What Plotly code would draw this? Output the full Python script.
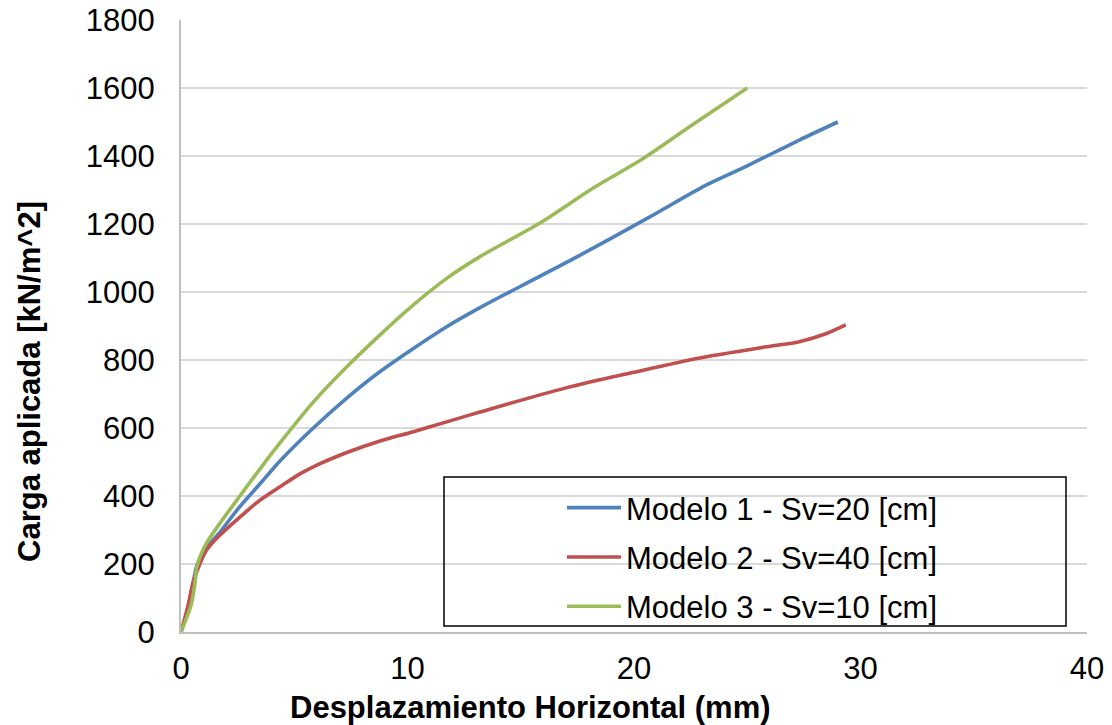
import plotly.graph_objects as go

# ---- data ----
x_m1 = [0, 0.3, 0.55, 0.72, 1.13, 1.72, 2.6, 3.49, 4.37, 5.84, 7.32, 8.79, 10.26, 11.73, 13.2, 15.0,
        17.5, 20.7, 23.2, 25.0, 27.3, 29.0]
y_m1 = [0, 65, 150, 200, 248, 294, 369, 436, 503, 600, 688, 766, 834, 898, 954, 1017,
        1104, 1221, 1315, 1371, 1447, 1500]

x_m2 = [0, 0.3, 0.55, 0.8, 1.13, 1.72, 2.6, 3.49, 4.37, 5.25, 5.84, 7.32, 8.79, 10.26, 11.73, 13.2,
        17.0, 20.0, 22.9, 25.86, 27.3, 28.5, 29.35]
y_m2 = [0, 75, 150, 195, 241, 285, 338, 388, 427, 465, 486, 528, 562, 589, 618, 647,
        718, 764, 806, 839, 854, 878, 903]

x_m3 = [0, 0.25, 0.45, 0.6, 0.7, 0.9, 1.13, 1.72, 2.6, 3.49, 4.37, 5.84, 7.32, 8.79, 10.26, 11.73,
        13.2, 15.85, 18.2, 20.3, 22.5, 25.0]
y_m3 = [0, 42, 80, 135, 192, 231, 262, 320, 400, 480, 556, 676, 780, 874, 962, 1040,
        1104, 1203, 1306, 1388, 1488, 1600]

names = ["Modelo 1 - Sv=20 [cm]", "Modelo 2 - Sv=40 [cm]", "Modelo 3 - Sv=10 [cm]"]
colors = ["#4F81BD", "#C0504D", "#9BBB59"]

x_ticks = [0, 10, 20, 30, 40]
y_ticks = [0, 200, 400, 600, 800, 1000, 1200, 1400, 1600, 1800]

FONT = "Liberation Sans, Arial, sans-serif"

fig = go.Figure()
for i, (xs, ys) in enumerate([(x_m1, y_m1), (x_m2, y_m2), (x_m3, y_m3)]):
    fig.add_trace(go.Scatter(
        x=xs, y=ys, mode="lines", name=names[i],
        line=dict(color=colors[i], width=3.6, shape="spline", smoothing=0.8),
        legendgroup=f"g{i}",
    ))

fig.update_layout(
    width=1112, height=725,
    margin=dict(l=181, r=25, t=20, b=93, autoexpand=False),
    paper_bgcolor="white", plot_bgcolor="white",
    font=dict(family=FONT, size=31, color="black"),
    showlegend=True,
    legend=dict(
        x=(562 - 181) / 906, y=(632 - 481) / 612,
        xanchor="left", yanchor="top",
        bgcolor="rgba(0,0,0,0)", borderwidth=0,
        font=dict(family=FONT, size=31, color="black"),
        itemwidth=54, tracegroupgap=6,
    ),
    shapes=[dict(
        type="rect", xref="paper", yref="paper",
        x0=(444 - 181) / 906, x1=(1066 - 181) / 906,
        y0=(632 - 626) / 612, y1=(632 - 477) / 612,
        line=dict(color="black", width=1.5), fillcolor="rgba(0,0,0,0)",
        layer="above",
    )],
    annotations=[
        dict(text="<b>Desplazamiento Horizontal (mm)</b>", xref="paper", yref="paper",
             x=(530 - 181) / 906, y=(632 - 707) / 612, xanchor="center", yanchor="middle",
             showarrow=False, font=dict(family=FONT, size=31, color="black")),
        dict(text="<b>Carga aplicada [kN/m^2]</b>", xref="paper", yref="paper",
             x=(29 - 181) / 906, y=(632 - 382) / 612, xanchor="center", yanchor="middle",
             textangle=-90, showarrow=False, font=dict(family=FONT, size=31, color="black")),
    ],
)

fig.update_xaxes(
    range=[0, 40], tickvals=x_ticks, ticktext=[str(v) for v in x_ticks],
    showgrid=False, zeroline=False, automargin=False,
    showline=True, linecolor="#BFBFBF", linewidth=2,
    ticks="", ticklabelstandoff=8,
    tickfont=dict(family=FONT, size=31, color="black"),
)
fig.update_yaxes(
    range=[0, 1800], tickvals=y_ticks, ticktext=[str(v) for v in y_ticks],
    showgrid=True, gridcolor="#D9D9D9", gridwidth=2, zeroline=False, automargin=False,
    showline=True, linecolor="#BFBFBF", linewidth=2,
    ticks="", ticklabelstandoff=18,
    tickfont=dict(family=FONT, size=31, color="black"),
)

fig.write_html("out.html")
